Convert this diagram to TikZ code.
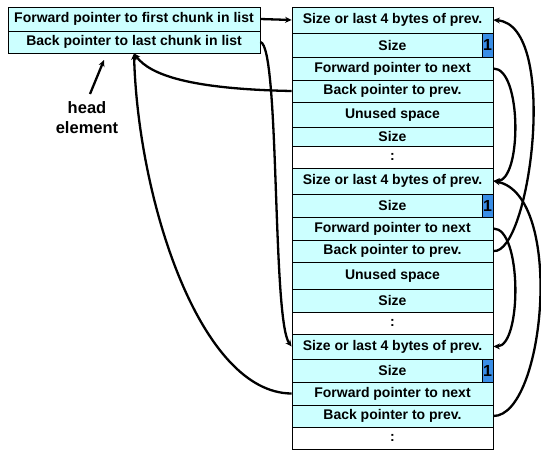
\documentclass[tikz,border=0pt]{standalone}
\usepackage{fontspec}
\setmainfont{Liberation Sans}
\usetikzlibrary{arrows.meta}
\definecolor{cellfill}{HTML}{CCFFFF}
\definecolor{bitfill}{HTML}{3A8EE6}
\begin{document}
\begin{tikzpicture}[x=1pt,y=-1pt,
  cell/.style={draw=black, line width=0.8pt, fill=cellfill, minimum width=201pt, inner sep=0pt, font=\fontsize{14}{14}\selectfont\bfseries},
  dotcell/.style={cell, fill=white},
  hcell/.style={cell, minimum width=252pt},
  bit/.style={draw=black, line width=0.6pt, fill=bitfill, minimum width=11pt, inner sep=0pt, font=\fontsize{16}{16}\selectfont\bfseries},
  ptr/.style={line width=2.3pt, -{Stealth[length=6.5pt,width=6pt]}},
]
\useasboundingbox (0,0) rectangle (541,453);
\fill[white] (0,0) rectangle (541,453);
% head element
\node[hcell, minimum height=24pt] (hfwd) at (134,19) {Forward pointer to first chunk in list};
\node[hcell, minimum height=22pt] (hback) at (134,42) {Back pointer to last chunk in list};
\node[font=\fontsize{16.5}{20}\selectfont\bfseries, align=center] (hlab) at (87,118) {head\\element};
\coordinate (hta) at (90,94);
\coordinate (htb) at (104,60);
% chunk 1
\node[cell, minimum height=26pt] (a1) at (392.5,20) {Size or last 4 bytes of prev.};
\node[cell, minimum height=24pt] (a2) at (392.5,45) {Size};
\node[cell, minimum height=23pt] (a3) at (392.5,68.5) {Forward pointer to next};
\node[cell, minimum height=22pt] (a4) at (392.5,91) {Back pointer to prev.};
\node[cell, minimum height=25pt] (a5) at (392.5,114.5) {Unused space};
\node[cell, minimum height=19pt] (a6) at (392.5,136.5) {Size};
\node[dotcell, minimum height=22pt] (a7) at (392.5,157) {:};
\node[bit, minimum height=24pt] (ab) at (487.5,45) {1};
% chunk 2
\node[cell, minimum height=26pt] (b1) at (392.5,181) {Size or last 4 bytes of prev.};
\node[cell, minimum height=23pt] (b2) at (392.5,205.5) {Size};
\node[cell, minimum height=23pt] (b3) at (392.5,228.5) {Forward pointer to next};
\node[cell, minimum height=22pt] (b4) at (392.5,251) {Back pointer to prev.};
\node[cell, minimum height=27pt] (b5) at (392.5,275.5) {Unused space};
\node[cell, minimum height=23pt] (b6) at (392.5,300.5) {Size};
\node[dotcell, minimum height=22pt] (b7) at (392.5,323) {:};
\node[bit, minimum height=23pt] (bb) at (487.5,205.5) {1};
% chunk 3
\node[cell, minimum height=25pt] (c1) at (392.5,346.5) {Size or last 4 bytes of prev.};
\node[cell, minimum height=23pt] (c2) at (392.5,370.5) {Size};
\node[cell, minimum height=23pt] (c3) at (392.5,393.5) {Forward pointer to next};
\node[cell, minimum height=22pt] (c4) at (392.5,416) {Back pointer to prev.};
\node[dotcell, minimum height=22pt] (c5) at (392.5,438) {:};
\node[bit, minimum height=23pt] (cb) at (487.5,370.5) {1};
% connectors
\draw[ptr] (hta) -- (htb);
\draw[ptr] (hfwd.east) -- (a1.west);
\draw[ptr] (hback.east) .. controls (280,46) and (272,320) .. (c1.west);
\draw[ptr] (a4.west) .. controls (190,89) and (150,75) .. (hback.south);
\draw[ptr] (c3.west) .. controls (200,393) and (138,200) .. (hback.south);
\draw[ptr] (a3.east) .. controls (522,68) and (522,181) .. (b1.east);
\draw[ptr] (b4.east) .. controls (530,255) and (560,25) .. (a1.east);
\draw[ptr] (b3.east) .. controls (522,228) and (522,346) .. (c1.east);
\draw[ptr] (c4.east) .. controls (545,416) and (565,195) .. (b1.east);
\end{tikzpicture}
\end{document}
